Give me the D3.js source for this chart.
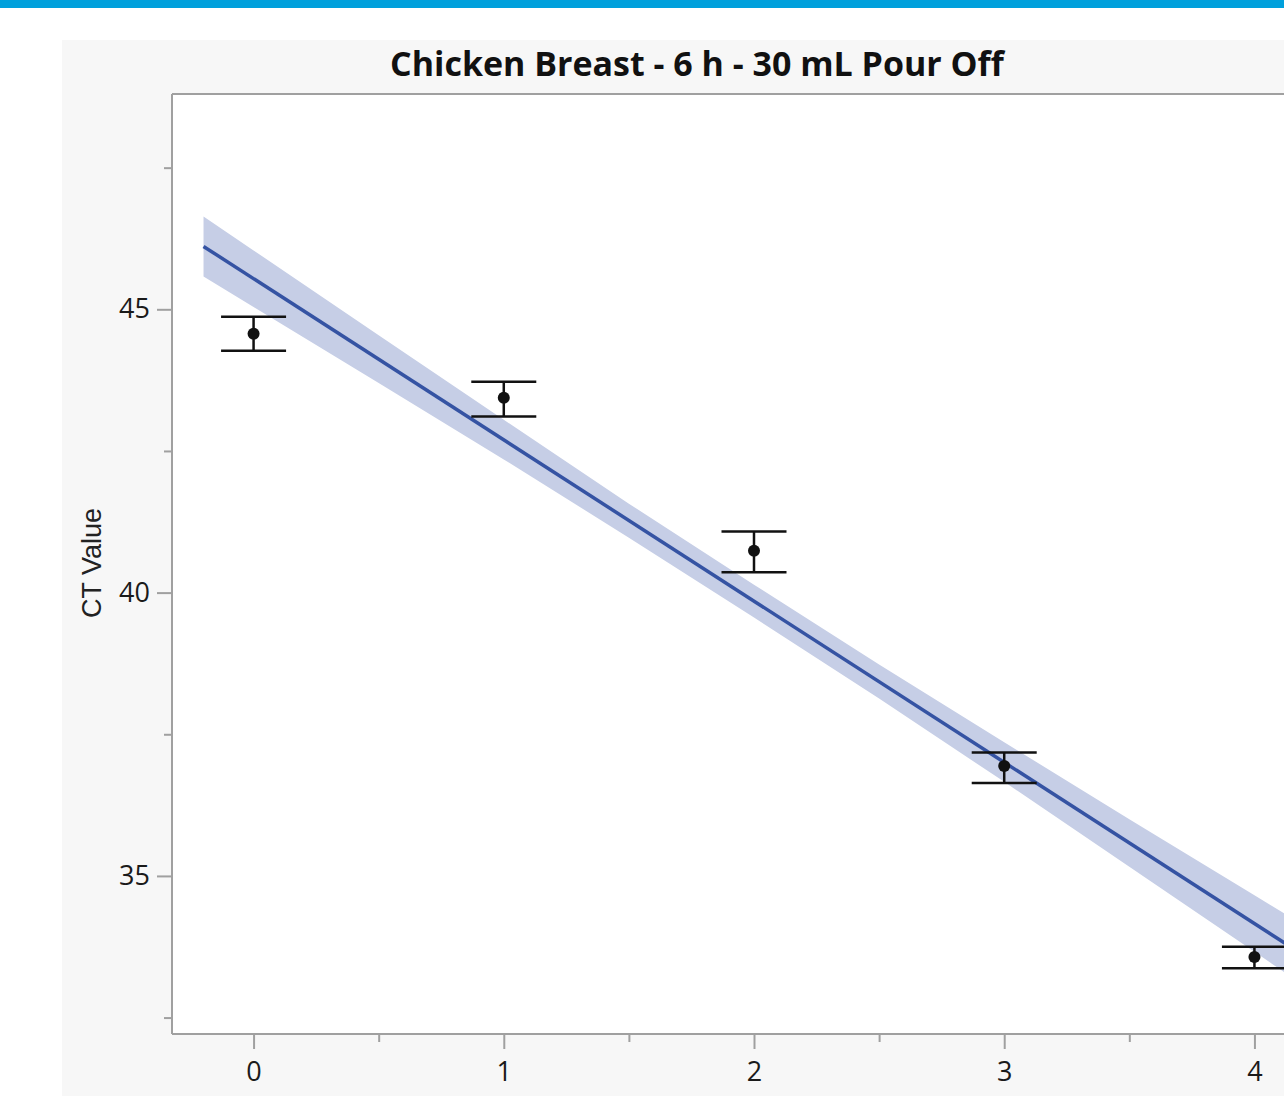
<!DOCTYPE html>
<html>
<head>
<meta charset="utf-8">
<script src="https://cdn.jsdelivr.net/npm/d3@7"></script>
<style>
  html, body { margin: 0; padding: 0; background: #ffffff; }
  svg { display: block; }
</style>
</head>
<body>
<script>
// ---- Data ----
const title = "Chicken Breast - 6 h - 30 mL Pour Off";
const yLabel = "CT Value";
const xValues = [0, 1, 2, 3, 4];
const meanValues = [44.57, 43.44, 40.74, 36.94, 33.57];
const errUpper = [44.87, 43.72, 41.08, 37.18, 33.75];
const errLower = [44.27, 43.11, 40.36, 36.64, 33.37];

const fitX = [-0.2, 4.2];
const fitY = [46.11, 33.59];

const bandX     = [-0.2, 0, 0.5, 1, 1.5, 2, 2.5, 3, 3.5, 4, 4.2];
const bandUpper = [46.64, 46.04, 44.54, 43.05, 41.57, 40.14, 38.73, 37.36, 36.00, 34.66, 34.12];
const bandLower = [45.58, 45.04, 43.70, 42.35, 40.97, 39.56, 38.13, 36.66, 35.16, 33.66, 33.06];

const xMajorTicks = [0, 1, 2, 3, 4];
const xMinorTicks = [0.5, 1.5, 2.5, 3.5];
const yMajorTicks = [35, 40, 45];
const yMinorTicks = [32.5, 37.5, 42.5, 47.5];

// ---- Layout ----
const W = 1284, H = 1096;
const svg = d3.select("body").append("svg").attr("width", W).attr("height", H);

// top blue bar
svg.append("rect").attr("x", 0).attr("y", 0).attr("width", W).attr("height", 8).attr("fill", "#00a0dc");
// light grey panel
svg.append("rect").attr("x", 62).attr("y", 40).attr("width", W - 62).attr("height", H - 40).attr("fill", "#f7f7f7");

const plot = { left: 172, top: 94, right: 1336, bottom: 1034 };
const x = d3.scaleLinear().domain([-0.326, 4.326]).range([plot.left, plot.right]);
const y = d3.scaleLinear().domain([32.21, 48.80]).range([plot.bottom, plot.top]);

// plot background
svg.append("rect").attr("x", plot.left).attr("y", plot.top)
  .attr("width", plot.right - plot.left).attr("height", plot.bottom - plot.top).attr("fill", "#ffffff");

svg.append("clipPath").attr("id", "clip").append("rect")
  .attr("x", plot.left).attr("y", plot.top).attr("width", plot.right - plot.left).attr("height", plot.bottom - plot.top);

const g = svg.append("g").attr("clip-path", "url(#clip)");

// confidence band
const bandData = bandX.map((d, i) => ({ x: d, lo: bandLower[i], hi: bandUpper[i] }));
g.append("path").datum(bandData)
  .attr("d", d3.area().x(d => x(d.x)).y0(d => y(d.lo)).y1(d => y(d.hi)))
  .attr("fill", "#c6cee6");

// fit line
g.append("path").datum(fitX.map((d, i) => [d, fitY[i]]))
  .attr("d", d3.line().x(d => x(d[0])).y(d => y(d[1])))
  .attr("fill", "none").attr("stroke", "#3553a3").attr("stroke-width", 3.5);

// error bars + points
const pts = xValues.map((d, i) => ({ x: d, m: meanValues[i], hi: errUpper[i], lo: errLower[i] }));
const eb = g.append("g").attr("stroke", "#111").attr("stroke-width", 2.5);
eb.selectAll("line.v").data(pts).join("line")
  .attr("x1", d => x(d.x)).attr("x2", d => x(d.x)).attr("y1", d => y(d.hi)).attr("y2", d => y(d.lo));
eb.selectAll("line.t").data(pts).join("line")
  .attr("x1", d => x(d.x) - 32.5).attr("x2", d => x(d.x) + 32.5).attr("y1", d => y(d.hi)).attr("y2", d => y(d.hi));
eb.selectAll("line.b").data(pts).join("line")
  .attr("x1", d => x(d.x) - 32.5).attr("x2", d => x(d.x) + 32.5).attr("y1", d => y(d.lo)).attr("y2", d => y(d.lo));
g.append("g").selectAll("circle").data(pts).join("circle")
  .attr("cx", d => x(d.x)).attr("cy", d => y(d.m)).attr("r", 6).attr("fill", "#111");

// frame (top border)
svg.append("line").attr("x1", plot.left).attr("x2", plot.right).attr("y1", plot.top).attr("y2", plot.top)
  .attr("stroke", "#a0a0a0").attr("stroke-width", 2);

// axes
function styleAxis(sel) {
  sel.select(".domain").attr("stroke", "#a0a0a0").attr("stroke-width", 2);
  sel.selectAll(".tick line").attr("stroke", "#a0a0a0").attr("stroke-width", 2);
  sel.selectAll(".tick text").attr("fill", "#1a1a1a").attr("font-family", "'Open Sans', 'Noto Sans', sans-serif").attr("font-size", 27);
}
const yMinor = svg.append("g").attr("transform", `translate(${plot.left},0)`)
  .call(d3.axisLeft(y).tickValues(yMinorTicks).tickSize(8).tickFormat(""));
styleAxis(yMinor);
const yAxis = svg.append("g").attr("transform", `translate(${plot.left},0)`)
  .call(d3.axisLeft(y).tickValues(yMajorTicks).tickSize(15).tickPadding(7).tickFormat(d3.format("d")).tickSizeOuter(0));
styleAxis(yAxis);

const xMinor = svg.append("g").attr("transform", `translate(0,${plot.bottom})`)
  .call(d3.axisBottom(x).tickValues(xMinorTicks).tickSize(8).tickFormat(""));
styleAxis(xMinor);
const xAxis = svg.append("g").attr("transform", `translate(0,${plot.bottom})`)
  .call(d3.axisBottom(x).tickValues(xMajorTicks).tickSize(15).tickPadding(13).tickFormat(d3.format("d")).tickSizeOuter(0));
styleAxis(xAxis);
yMinor.select(".domain").attr("d", `M0,${plot.top}V${plot.bottom}`);
yAxis.select(".domain").attr("d", `M0,${plot.top}V${plot.bottom}`);
xMinor.select(".domain").attr("d", `M${plot.left},0H${plot.right}`);
xAxis.select(".domain").attr("d", `M${plot.left},0H${plot.right}`);

// y label
svg.append("text").attr("transform", "translate(101,563) rotate(-90)")
  .attr("text-anchor", "middle").attr("font-family", "'Liberation Sans', Arial, sans-serif")
  .attr("font-size", 27).attr("fill", "#222").text(yLabel);

// title
const t = svg.append("text").attr("x", 697).attr("y", 76).attr("text-anchor", "middle")
  .attr("font-family", "'Open Sans', 'Noto Sans', sans-serif").attr("font-weight", "bold")
  .attr("font-size", 30).attr("fill", "#111").text(title);
const tw = t.node().getComputedTextLength();
t.attr("font-size", 30 * 614 / tw);
</script>
</body>
</html>
